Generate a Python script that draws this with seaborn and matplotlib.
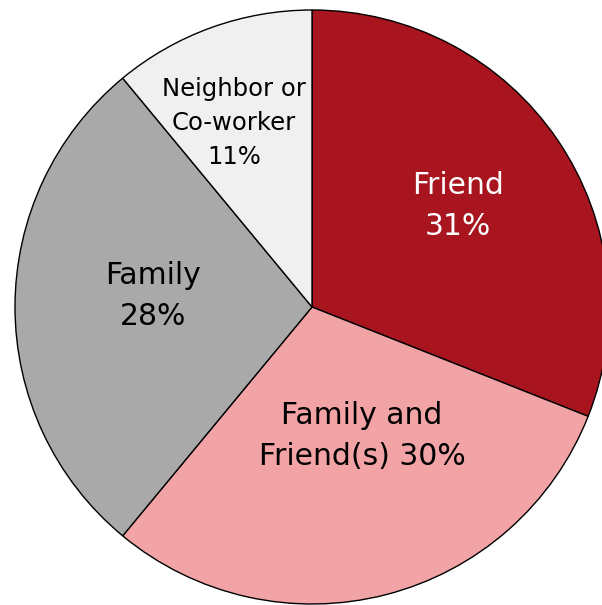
import matplotlib
matplotlib.use("Agg")
import matplotlib.pyplot as plt
import seaborn as sns

categories = ["Friend", "Family and\nFriend(s)", "Family", "Neighbor or\nCo-worker"]
shares = [31, 30, 28, 11]
label_texts = ["Friend\n31%", "Family and\nFriend(s) 30%", "Family\n28%", "Neighbor or\nCo-worker\n11%"]
colors = ["#A8151E", "#F2A3A6", "#A9A9A9", "#F0F0F0"]

sns.set_theme(style="white")
plt.rcParams['font.family'] = ['DejaVu Sans']

fig = plt.figure(figsize=(6.02, 6.05), dpi=100)
W, H = 602, 605
cx, cy, r = 312, 307, 297
ax = fig.add_axes([(cx - r) / W, (H - cy - r) / H, 2 * r / W, 2 * r / H])
wedges, _ = ax.pie(shares, colors=colors, startangle=90, counterclock=False,
                   radius=1, wedgeprops=dict(edgecolor="black", linewidth=1.0))
for w in wedges:
    w.set_clip_on(False)
ax.set_xlim(-1, 1)
ax.set_ylim(-1, 1)
ax.set_aspect("auto")
ax.axis("off")

def px(x, y):
    return (x - cx) / r, (cy - y) / r

label_pos = [px(458, 206), px(362, 436), px(153, 296), px(234, 123)]
text_colors = ["white", "black", "black", "black"]
sizes = [21.5, 21.5, 21.5, 17.5]
spacing = [1.55, 1.55, 1.55, 1.55]
for t, (x, y), c, s, ls in zip(label_texts, label_pos, text_colors, sizes, spacing):
    ax.text(x, y, t, ha="center", va="center", color=c, fontsize=s,
            linespacing=ls, multialignment="center")

fig.savefig("out.png", dpi=100)
